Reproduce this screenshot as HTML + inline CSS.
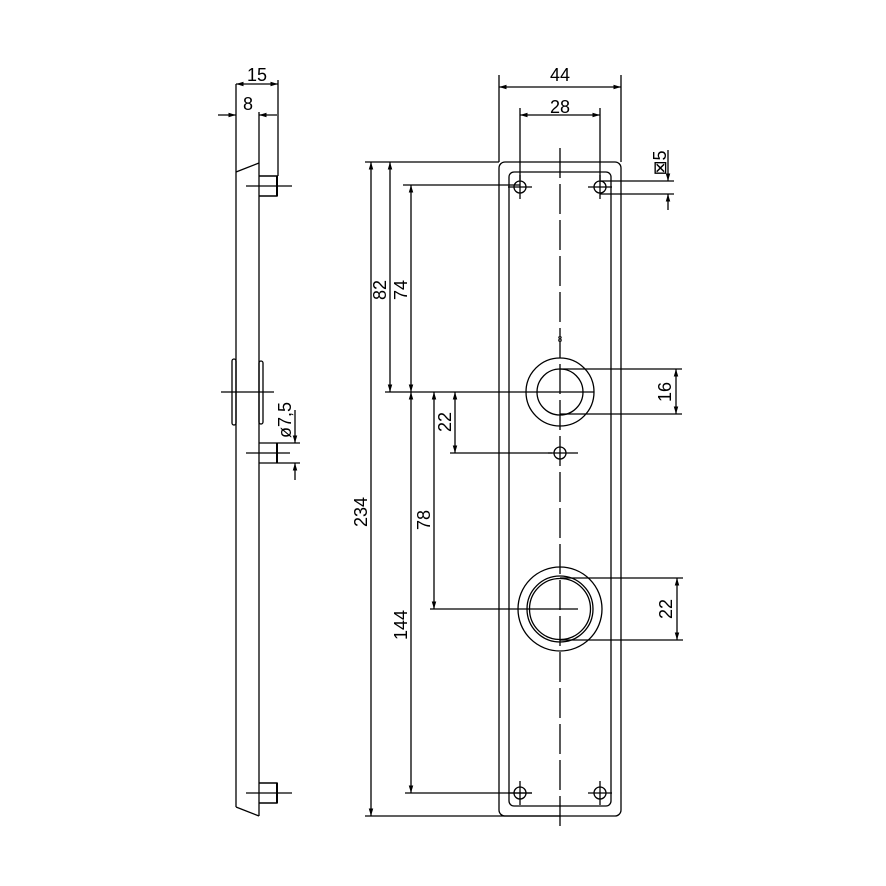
<!DOCTYPE html>
<html><head><meta charset="utf-8"><style>html,body{margin:0;padding:0;background:#fff}svg{display:block}</style></head>
<body>
<svg width="886" height="886" viewBox="0 0 886 886" xmlns="http://www.w3.org/2000/svg" font-family="'Liberation Sans','DejaVu Sans',sans-serif">
<defs>
<marker id="a" viewBox="0 0 10 6" refX="10" refY="3" markerWidth="6" markerHeight="3.5" orient="auto-start-reverse"><path d="M0,0 L10,3 L0,6 z" fill="#000"/></marker>
</defs>
<g stroke="#000" fill="none" stroke-width="1.3">
<line x1="236" y1="172" x2="236" y2="807"/>
<line x1="259" y1="112" x2="259" y2="816"/>
<line x1="278" y1="80" x2="278" y2="176"/>
<line x1="236" y1="172" x2="259" y2="163"/>
<line x1="236" y1="807" x2="259" y2="816"/>
<path d="M259,176 H277 V196 H259" stroke-width="1.4"/>
<line x1="277" y1="176" x2="277" y2="196" stroke-width="2"/>
<line x1="246" y1="186" x2="292" y2="186"/>
<path d="M259,783 H277 V803 H259" stroke-width="1.4"/>
<line x1="277" y1="783" x2="277" y2="803" stroke-width="2"/>
<line x1="246" y1="793" x2="292" y2="793"/>
<rect x="232" y="359" width="4" height="66" rx="2"/>
<rect x="259" y="361" width="4" height="63" rx="2"/>
<line x1="221" y1="392" x2="274" y2="392"/>
<line x1="259" y1="443" x2="300" y2="443"/>
<line x1="259" y1="463" x2="300" y2="463"/>
<line x1="277" y1="443" x2="277" y2="463" stroke-width="2"/>
<line x1="246" y1="453" x2="290" y2="453"/>
<line x1="295" y1="410" x2="295" y2="443" marker-end="url(#a)"/>
<line x1="295" y1="480" x2="295" y2="463" marker-end="url(#a)"/>
<line x1="236" y1="84" x2="278" y2="84" marker-start="url(#a)" marker-end="url(#a)"/>
<line x1="236" y1="84" x2="236" y2="172"/>
<line x1="218" y1="115" x2="236" y2="115" marker-end="url(#a)"/>
<line x1="277" y1="115" x2="259" y2="115" marker-end="url(#a)"/>

<rect x="499" y="162" width="122" height="654" rx="6"/>
<rect x="509" y="172" width="102" height="634" rx="5"/>
<line x1="560" y1="148" x2="560" y2="830" stroke-dasharray="30,6"/>
<g>
<circle cx="520" cy="187" r="6"/><circle cx="600" cy="187" r="6"/>
<circle cx="520" cy="793" r="6"/><circle cx="600" cy="793" r="6"/>
<line x1="508" y1="187" x2="532" y2="187"/><line x1="520" y1="175" x2="520" y2="199"/>
<line x1="588" y1="187" x2="612" y2="187"/><line x1="600" y1="175" x2="600" y2="199"/>
<line x1="508" y1="793" x2="532" y2="793"/><line x1="520" y1="781" x2="520" y2="805"/>
<line x1="588" y1="793" x2="612" y2="793"/><line x1="600" y1="781" x2="600" y2="805"/>
</g>
<circle cx="560" cy="392" r="34"/><circle cx="560" cy="392" r="23"/>
<circle cx="560" cy="453" r="6"/>
<line x1="548" y1="453" x2="578" y2="453"/>
<circle cx="560" cy="609" r="42"/><circle cx="560" cy="609" r="33"/><circle cx="560" cy="609" r="30.5"/>

<line x1="499" y1="75" x2="499" y2="162"/><line x1="621" y1="75" x2="621" y2="162"/>
<line x1="499" y1="87" x2="621" y2="87" marker-start="url(#a)" marker-end="url(#a)"/>
<line x1="520" y1="108" x2="520" y2="180"/><line x1="600" y1="108" x2="600" y2="180"/>
<line x1="520" y1="115" x2="600" y2="115" marker-start="url(#a)" marker-end="url(#a)"/>
<line x1="600" y1="181" x2="674" y2="181"/><line x1="600" y1="194" x2="674" y2="194"/>
<line x1="668" y1="150" x2="668" y2="181" marker-end="url(#a)"/>
<line x1="668" y1="210" x2="668" y2="194" marker-end="url(#a)"/>
<line x1="365" y1="162" x2="499" y2="162"/>
<line x1="365" y1="816" x2="560" y2="816"/>
<line x1="371" y1="162" x2="371" y2="816" marker-start="url(#a)" marker-end="url(#a)"/>
<line x1="390" y1="162" x2="390" y2="392" marker-start="url(#a)" marker-end="url(#a)"/>
<line x1="403" y1="185" x2="520" y2="185"/>
<line x1="411" y1="185" x2="411" y2="392" marker-start="url(#a)" marker-end="url(#a)"/>
<line x1="385" y1="392" x2="594" y2="392"/>
<line x1="411" y1="392" x2="411" y2="793" marker-start="url(#a)" marker-end="url(#a)"/>
<line x1="405" y1="793" x2="532" y2="793"/>
<line x1="434" y1="392" x2="434" y2="609" marker-start="url(#a)" marker-end="url(#a)"/>
<line x1="430" y1="609" x2="578" y2="609"/>
<line x1="455" y1="392" x2="455" y2="453" marker-start="url(#a)" marker-end="url(#a)"/>
<line x1="450" y1="453" x2="552" y2="453"/>
<line x1="560" y1="369" x2="682" y2="369"/><line x1="560" y1="414" x2="682" y2="414"/>
<line x1="676" y1="369" x2="676" y2="414" marker-start="url(#a)" marker-end="url(#a)"/>
<line x1="560" y1="578" x2="683" y2="578"/><line x1="560" y1="640" x2="683" y2="640"/>
<line x1="677" y1="578" x2="677" y2="640" marker-start="url(#a)" marker-end="url(#a)"/>
</g>
<g font-size="18" fill="#000" text-anchor="middle">
<text x="257" y="81">15</text>
<text x="248" y="110">8</text>
<text x="560" y="81">44</text>
<text x="560" y="113">28</text>
<text font-size="8" x="560" y="342">8</text>
<text transform="translate(291,420) rotate(-90)">ø7,5</text>
<text transform="translate(666,163) rotate(-90)">⊠5</text>
<text transform="translate(367,512) rotate(-90)">234</text>
<text transform="translate(386,290) rotate(-90)">82</text>
<text transform="translate(407,290) rotate(-90)">74</text>
<text transform="translate(407,625) rotate(-90)">144</text>
<text transform="translate(430,520) rotate(-90)">78</text>
<text transform="translate(451,422) rotate(-90)">22</text>
<text transform="translate(671,392) rotate(-90)">16</text>
<text transform="translate(672,609) rotate(-90)">22</text>
</g>
</svg>
</body></html>
